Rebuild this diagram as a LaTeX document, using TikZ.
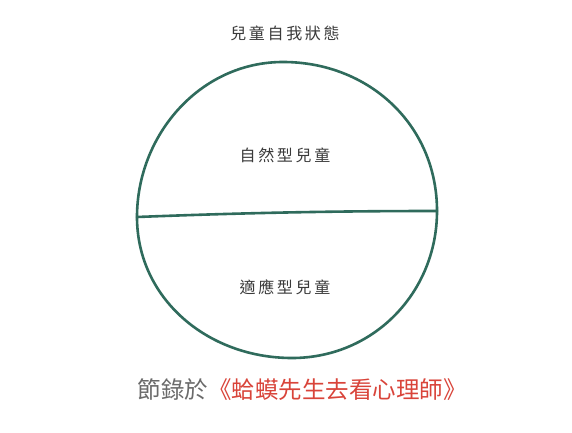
\documentclass[tikz,border=0pt]{standalone}
\usepackage{fontspec}
\newfontfamily\cjk{Noto Sans CJK TC}
\definecolor{ringgreen}{HTML}{2F6B5C}
\definecolor{srcred}{HTML}{D9443A}
\definecolor{srcgray}{HTML}{6A6A6A}
\definecolor{labgray}{HTML}{3A3A3A}
\begin{document}
\begin{tikzpicture}[x=1pt,y=-1pt,
  ring/.style={draw=ringgreen,line width=2.6pt,line join=round,line cap=round},
  lab/.style={font=\cjk\fontsize{16}{19}\selectfont,text=labgray,inner sep=0pt}]
\useasboundingbox (0,0) rectangle (572,433);
\fill[white] (0,0) rectangle (572,433);
\coordinate (T) at (283,62);
\coordinate (R) at (437,211);
\coordinate (B) at (292,358);
\coordinate (L) at (137,217);
\draw[ring] (T) .. controls (369,62) and (437,125) .. (R)
  .. controls (437,292) and (374,358) .. (B)
  .. controls (207,358) and (137,298) .. (L)
  .. controls (137,135) and (200,62) .. (T) -- cycle;
\draw[ring] (L) .. controls (240,213) and (330,211) .. (R);
\node[lab] (title) at (285,33) {兒\,童\,自\,我\,狀\,態};
\node[lab] (nat) at (285,155) {自\,然\,型\,兒\,童};
\node[lab] (adp) at (285,287) {適\,應\,型\,兒\,童};
\node[inner sep=0pt,font=\cjk\fontsize{23.5}{28}\selectfont] (src) at (302,390)
  {\textcolor{srcgray}{節錄於}\textcolor{srcred}{《蛤蟆先生去看心理師》}};
\end{tikzpicture}
\end{document}
